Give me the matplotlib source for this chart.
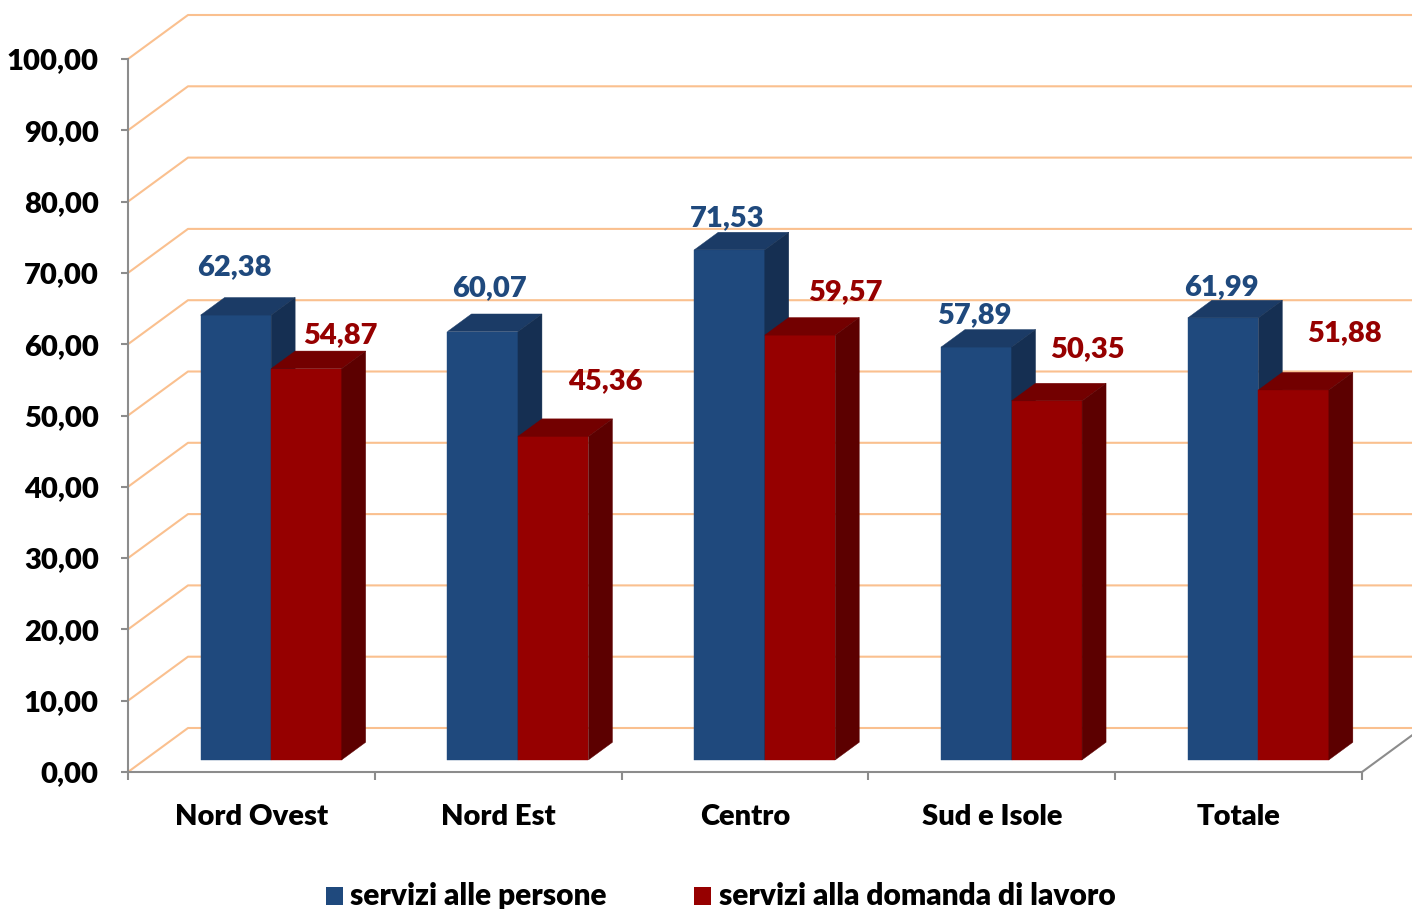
import matplotlib
matplotlib.use("Agg")
import matplotlib.pyplot as plt
from matplotlib.patches import Polygon, Rectangle

categories = ["Nord Ovest", "Nord Est", "Centro", "Sud e Isole", "Totale"]
series_names = ["servizi alle persone", "servizi alla domanda di lavoro"]
persone = [62.38, 60.07, 71.53, 57.89, 61.99]
domanda = [54.87, 45.36, 59.57, 50.35, 51.88]
y_ticks = [0, 10, 20, 30, 40, 50, 60, 70, 80, 90, 100]
y_tick_labels = ["0,00", "10,00", "20,00", "30,00", "40,00", "50,00",
                 "60,00", "70,00", "80,00", "90,00", "100,00"]

# label nudges in pixels (dx, dy up) relative to the top of each bar's front face
blue_nudge = [(-2, 48), (7, 43), (-2, 32), (-2, 32), (-2, 31)]
red_nudge = [(34, 34), (52, 55), (45, 43), (41, 52), (51, 57)]

FONT = "Lato"
WEIGHT = "heavy"
FS = 21
BLUE = "#1F497D"; BLUE_TOP = "#1B3B66"; BLUE_SIDE = "#152F52"
RED = "#960000"; RED_TOP = "#730000"; RED_SIDE = "#5C0000"
GRID = "#FAC08F"; AXC = "#8C8C8C"

W, H = 1412, 909
fig = plt.figure(figsize=(W / 100, H / 100), dpi=100)
ax = fig.add_axes([128 / W, (H - 772) / H, (1362 - 128) / W, (772 - 59) / H])
ax.set_xlim(-0.5, 4.5)
ax.set_ylim(0, 100)

# depth vector of the chart (data units)
DX, DY = 60 / ((1362 - 128) / 5), 44 / ((772 - 59) / 100)

# back wall gridlines with diagonals on the left wall
for v in y_ticks:
    ax.plot([-0.5, -0.5 + DX, 4.5 + DX], [v, v + DY, v + DY], color=GRID,
            lw=1.5, clip_on=False, zorder=1, solid_capstyle="butt")
# floor right edge
ax.plot([4.5, 4.5 + DX], [0, DY], color=AXC, lw=1.5, clip_on=False, zorder=1)

# bars
bw = 0.2857
fx = 0.08          # front face x shift
base = 1.7         # front face base (data units)
bdx, bdy = 0.4 * DX, 0.4 * DY

def bar3d(x0, h, front, top, side):
    x1 = x0 + bw
    y0, y1 = base, base + h
    ax.add_patch(Polygon([(x0, y0), (x1, y0), (x1, y1), (x0, y1)], closed=True,
                         fc=front, ec=front, lw=0.3, zorder=3, clip_on=False))
    ax.add_patch(Polygon([(x0, y1), (x1, y1), (x1 + bdx, y1 + bdy), (x0 + bdx, y1 + bdy)],
                         closed=True, fc=top, ec=top, lw=0.3, zorder=3, clip_on=False))
    ax.add_patch(Polygon([(x1, y0), (x1 + bdx, y0 + bdy), (x1 + bdx, y1 + bdy), (x1, y1)],
                         closed=True, fc=side, ec=side, lw=0.3, zorder=3, clip_on=False))

for i in range(len(categories)):
    bar3d(i + fx - bw, persone[i], BLUE, BLUE_TOP, BLUE_SIDE)
    bar3d(i + fx, domanda[i], RED, RED_TOP, RED_SIDE)
    ax.annotate(f"{persone[i]:.2f}".replace(".", ","),
                xy=(i + fx - bw / 2, base + persone[i]),
                xytext=(blue_nudge[i][0] * 0.72, blue_nudge[i][1] * 0.72),
                textcoords="offset points", ha="center", va="center",
                color=BLUE, fontsize=FS, fontweight=WEIGHT, family=FONT,
                zorder=5, annotation_clip=False)
    ax.annotate(f"{domanda[i]:.2f}".replace(".", ","),
                xy=(i + fx + bw / 2, base + domanda[i]),
                xytext=(red_nudge[i][0] * 0.72, red_nudge[i][1] * 0.72),
                textcoords="offset points", ha="center", va="center",
                color=RED, fontsize=FS, fontweight=WEIGHT, family=FONT,
                zorder=5, annotation_clip=False)

# axes styling
for s in ["top", "right"]:
    ax.spines[s].set_visible(False)
for s in ["left", "bottom"]:
    ax.spines[s].set_color(AXC)
    ax.spines[s].set_linewidth(1.5)
    ax.spines[s].set_zorder(2)

ax.set_yticks(y_ticks)
ax.set_yticklabels(y_tick_labels, fontsize=FS, fontweight=WEIGHT, family=FONT)
ax.tick_params(axis="y", direction="out", length=5, width=1.5, color=AXC, pad=16)

ax.set_xticks(range(len(categories)))
ax.set_xticklabels(categories, fontsize=FS, fontweight=WEIGHT, family=FONT)
ax.tick_params(axis="x", which="major", length=0, pad=23)
ax.set_xticks([i - 0.5 for i in range(len(categories) + 1)], minor=True)
ax.tick_params(axis="x", which="minor", direction="out", length=6, width=1.5, color=AXC)

# legend
ly = 1 - 905 / H
fig.patches.append(Rectangle((326 / W, 1 - 905 / H), 17 / W, 18 / H,
                             transform=fig.transFigure, fc=BLUE, ec="none"))
fig.text(350 / W, ly, series_names[0], fontsize=21.5, fontweight=WEIGHT, family=FONT,
         va="baseline", ha="left")
fig.patches.append(Rectangle((694 / W, 1 - 905 / H), 17 / W, 18 / H,
                             transform=fig.transFigure, fc=RED, ec="none"))
fig.text(719 / W, ly, series_names[1], fontsize=21.5, fontweight=WEIGHT, family=FONT,
         va="baseline", ha="left")

fig.savefig("out.png", dpi=100)
